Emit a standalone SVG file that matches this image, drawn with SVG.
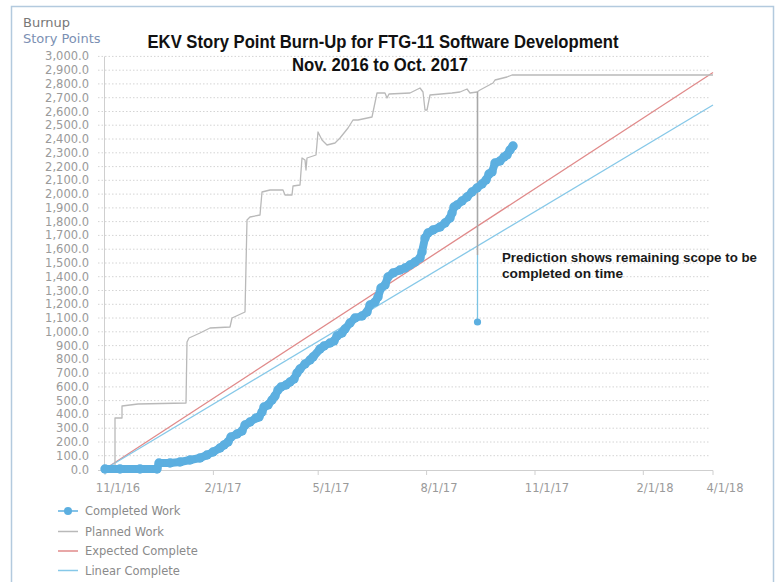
<svg xmlns="http://www.w3.org/2000/svg" width="779" height="582" viewBox="0 0 779 582">
<defs>
<style>
.ax{font-family:"DejaVu Sans","Liberation Sans",sans-serif;font-size:11.5px;fill:#9a9a9a}
.yl{text-anchor:end}
.xl{text-anchor:middle}
.lg{font-family:"DejaVu Sans","Liberation Sans",sans-serif;font-size:11.5px;fill:#8a8a8a}
.grid{stroke:#d4d4d4;stroke-width:1;stroke-dasharray:1.5 2;fill:none}
.axis{stroke:#cfcfcf;stroke-width:1;fill:none}
.title{font-family:"Liberation Sans",Arial,sans-serif;font-weight:bold;font-size:18px;fill:#111;text-anchor:middle}
.note{font-family:"Liberation Sans",Arial,sans-serif;font-weight:bold;font-size:13.5px;fill:#1a1a1a}
.planned{stroke:#b9b9b9;stroke-width:1.3;fill:none;stroke-linejoin:round}
.expected{stroke:#e08a8a;stroke-width:1.3;fill:none}
.linear{stroke:#86c8e8;stroke-width:1.3;fill:none}
.done{stroke:#5cafe0;stroke-width:8;fill:none;stroke-linejoin:round;stroke-linecap:round}
</style>
<marker id="dot" markerUnits="userSpaceOnUse" markerWidth="12" markerHeight="12" refX="6" refY="6">
<circle cx="6" cy="6" r="4.7" fill="#5cafe0"/>
</marker>
</defs>
<rect x="0" y="0" width="779" height="582" fill="#ffffff"/>
<rect x="11.5" y="6.5" width="762" height="600" fill="#ffffff" stroke="#b3cade" stroke-width="1.5"/>
<text x="23" y="27" font-family="DejaVu Sans,Liberation Sans,sans-serif" font-size="13" fill="#777">Burnup</text>
<text x="23" y="43" font-family="DejaVu Sans,Liberation Sans,sans-serif" font-size="13" fill="#7b90b3">Story Points</text>
<g id="grid">
<path class="grid" d="M98 455.7H710M98 442H710M98 428.2H710M98 414.4H710M98 400.6H710M98 386.9H710M98 373.1H710M98 359.3H710M98 345.6H710M98 331.8H710M98 318H710M98 304.3H710M98 290.5H710M98 276.7H710M98 263H710M98 249.2H710M98 235.4H710M98 221.6H710M98 207.9H710M98 194.1H710M98 180.3H710M98 166.6H710M98 152.8H710M98 139H710M98 125.2H710M98 111.5H710M98 97.7H710M98 83.9H710M98 70.2H710M98 56.4H710"/>
<path class="axis" d="M104.5 56.4V470.5M98 470.5H713M105 470.5V475M213.4 470.5V475M318.2 470.5V475M426.6 470.5V475M535 470.5V475M643.3 470.5V475M713 470.5V475"/>
</g>
<g id="y-labels" class="ax yl">
<text x="89" y="473.5">0.0</text>
<text x="89" y="459.7">100.0</text>
<text x="89" y="446">200.0</text>
<text x="89" y="432.2">300.0</text>
<text x="89" y="418.4">400.0</text>
<text x="89" y="404.6">500.0</text>
<text x="89" y="390.9">600.0</text>
<text x="89" y="377.1">700.0</text>
<text x="89" y="363.3">800.0</text>
<text x="89" y="349.6">900.0</text>
<text x="89" y="335.8">1,000.0</text>
<text x="89" y="322">1,100.0</text>
<text x="89" y="308.3">1,200.0</text>
<text x="89" y="294.5">1,300.0</text>
<text x="89" y="280.7">1,400.0</text>
<text x="89" y="267">1,500.0</text>
<text x="89" y="253.2">1,600.0</text>
<text x="89" y="239.4">1,700.0</text>
<text x="89" y="225.6">1,800.0</text>
<text x="89" y="211.9">1,900.0</text>
<text x="89" y="198.1">2,000.0</text>
<text x="89" y="184.3">2,100.0</text>
<text x="89" y="170.6">2,200.0</text>
<text x="89" y="156.8">2,300.0</text>
<text x="89" y="143">2,400.0</text>
<text x="89" y="129.2">2,500.0</text>
<text x="89" y="115.5">2,600.0</text>
<text x="89" y="101.7">2,700.0</text>
<text x="89" y="87.9">2,800.0</text>
<text x="89" y="74.2">2,900.0</text>
<text x="89" y="60.4">3,000.0</text>
</g>
<g id="x-labels" class="ax xl">
<text x="118" y="492">11/1/16</text>
<text x="223" y="492">2/1/17</text>
<text x="331" y="492">5/1/17</text>
<text x="439" y="492">8/1/17</text>
<text x="547" y="492">11/1/17</text>
<text x="655" y="492">2/1/18</text>
<text x="725" y="492">4/1/18</text>
</g>
<g id="series">
<line class="expected" x1="105" y1="469" x2="713" y2="72.5"/>
<line class="linear" x1="105" y1="469" x2="713" y2="105"/>
<polyline class="planned" points="115,469 115,418 122,418 122,406 138,404 186,403 187,342 189,338 200,333 210,328 230,327 232,318 245,312 247,220 250,217 260,215 262,192 270,190 283,190 285,195 292,195 293,186 300,185 302,158 305,160 306,170 307,158 310,157 316,155 318,132 322,140 327,145 335,143 340,138 348,128 353,120 358,120 372,117 377,93 385,93 387,98 389,94 410,93 420,88 423,92 425,110 427,110 430,95 452,93 460,92 467,89 470,93 477,92 480,90 493,83 495,80 507,77 512,75 713,75"/>
<line x1="477.5" y1="92" x2="477.5" y2="255" stroke="#a8a8a8" stroke-width="1.6"/>
<line x1="477.5" y1="255" x2="477.5" y2="322" stroke="#7cc4e4" stroke-width="1.3"/>
<circle cx="477.5" cy="322" r="3.6" fill="#5cafe0"/>
<polyline class="done" marker-start="url(#dot)" marker-mid="url(#dot)" marker-end="url(#dot)" points="105,469 120,469 140,469 157,469 159,463 170,463 180,462 190,460 200,458 207,455 213,452 220,448 224,445 228,442 231,437 237,434 242,431 245,425 250,422 256,418 259,417 262,412 264,407 268,405 272,400 275,396 278,390 281,387 286,385 290,382 294,379 297,373 300,369 305,364 310,360 313,357 320,349 324,346 330,343 334,341 337,336 342,333 345,329 350,323 355,318 362,316 367,312 370,305 375,302 378,297 381,288 385,285 388,277 393,273 400,270 405,268 410,265 415,262 420,258 422,252 425,238 428,233 433,230 440,227 445,223 450,218 452,213 454,207 457,205 462,201 467,197 472,192 477,188 482,184 486,180 489,174 492,172 495,163 500,161 504,157 507,155 510,150 513,146"/>
</g>
<g id="title">
<text class="title" x="383" y="48" textLength="471" lengthAdjust="spacingAndGlyphs">EKV Story Point Burn-Up for FTG-11 Software Development</text>
<text class="title" x="380" y="71" textLength="176" lengthAdjust="spacingAndGlyphs">Nov. 2016 to Oct. 2017</text>
</g>
<g id="annotation">
<text class="note" x="502" y="262" textLength="255" lengthAdjust="spacingAndGlyphs">Prediction shows remaining scope to be</text>
<text class="note" x="502" y="278" textLength="121" lengthAdjust="spacingAndGlyphs">completed on time</text>
</g>
<g id="legend">
<line x1="58" y1="511" x2="78" y2="511" stroke="#5cafe0" stroke-width="1.5"/>
<circle cx="68" cy="511" r="4" fill="#5cafe0"/>
<text class="lg" x="85" y="515">Completed Work</text>
<line x1="58" y1="531.5" x2="78" y2="531.5" stroke="#b9b9b9" stroke-width="1.5"/>
<text class="lg" x="85" y="535.5">Planned Work</text>
<line x1="58" y1="551" x2="78" y2="551" stroke="#e08a8a" stroke-width="1.5"/>
<text class="lg" x="85" y="555">Expected Complete</text>
<line x1="58" y1="570.5" x2="78" y2="570.5" stroke="#86c8e8" stroke-width="1.5"/>
<text class="lg" x="85" y="574.5">Linear Complete</text>
</g>
</svg>
